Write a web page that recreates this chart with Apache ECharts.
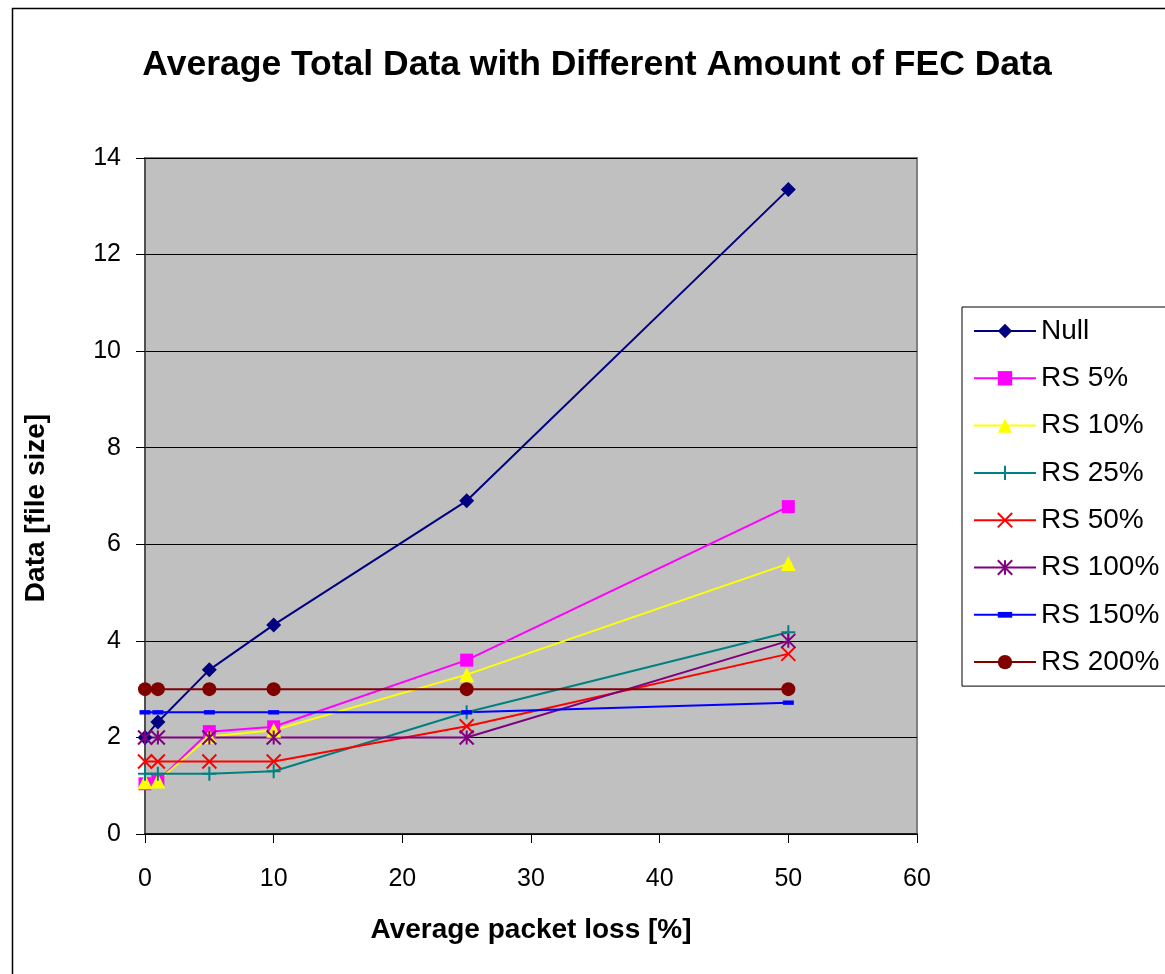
<!DOCTYPE html>
<html>
<head>
<meta charset="utf-8">
<script src="https://cdn.jsdelivr.net/npm/echarts@6/dist/echarts.min.js"></script>
<style>
html,body{margin:0;padding:0;background:#fff;}
#c{width:1165px;height:974px;}
</style>
</head>
<body>
<div id="c"></div>
<script>
const xValues = [0, 1, 5, 10, 25, 50];
const seriesNames = ['Null', 'RS 5%', 'RS 10%', 'RS 25%', 'RS 50%', 'RS 100%', 'RS 150%', 'RS 200%'];
const nullData   = [2.0, 2.32, 3.4, 4.33, 6.9, 13.35];
const rs5Data    = [1.04, 1.1, 2.12, 2.22, 3.6, 6.78];
const rs10Data   = [1.08, 1.1, 2.02, 2.15, 3.3, 5.6];
const rs25Data   = [1.25, 1.25, 1.25, 1.3, 2.52, 4.18];
const rs50Data   = [1.5, 1.5, 1.5, 1.5, 2.23, 3.73];
const rs100Data  = [2.0, 2.0, 2.0, 2.0, 2.0, 4.0];
const rs150Data  = [2.52, 2.52, 2.52, 2.52, 2.52, 2.72];
const rs200Data  = [3.0, 3.0, 3.0, 3.0, 3.0, 3.0];
const yTicks = [0, 2, 4, 6, 8, 10, 12, 14];
const xTicks = [0, 10, 20, 30, 40, 50, 60];

const allData = [nullData, rs5Data, rs10Data, rs25Data, rs50Data, rs100Data, rs150Data, rs200Data];
const colors = ['#000080', '#FF00FF', '#FFFF00', '#008080', '#FF0000', '#800080', '#0000FF', '#800000'];
const symbols = [
  'diamond', 'rect', 'triangle',
  'path://M5 0 L5 10 M0 5 L10 5',
  'path://M0 0 L10 10 M10 0 L0 10',
  'path://M5 0 L5 10 M0 0 L10 10 M10 0 L0 10',
  'path://M0 0 L0 0 M0 3 L10 3 L10 7 L0 7 Z M10 10 L10 10', 'circle'
];
const symbolSizes = [15, 13, 15, 14, 14, 14, 11, 14];
const strokeSymbols = [false, false, false, true, true, true, false, false];

const FONT = 'Arial, "Liberation Sans", sans-serif';

const series = seriesNames.map((name, i) => ({
  name: name,
  type: 'line',
  data: xValues.map((x, j) => [x, allData[i][j]]),
  symbol: symbols[i],
  symbolSize: symbolSizes[i],
  showAllSymbol: true,
  lineStyle: { color: colors[i], width: 2 },
  itemStyle: strokeSymbols[i]
    ? { color: 'rgba(0,0,0,0)', borderColor: colors[i], borderWidth: 2 }
    : { color: colors[i], borderWidth: 0 },
  emphasis: { disabled: true },
  animation: false
}));

const chart = echarts.init(document.getElementById('c'));
chart.setOption({
  animation: false,
  backgroundColor: '#fff',
  title: {
    text: 'Average Total Data with Different Amount of FEC Data',
    left: 592, textAlign: 'center', top: 42,
    textStyle: { fontFamily: FONT, fontWeight: 'bold', fontSize: 35.5, color: '#000' }
  },
  graphic: [{
    type: 'rect', left: 10, top: 6,
    shape: { width: 1300, height: 1100 },
    style: { fill: 'none', stroke: '#000', lineWidth: 1.5 },
    silent: true
  }],
  legend: {
    orient: 'vertical',
    left: 962, top: 307,
    padding: [9, 20, 9, 11],
    itemWidth: 62, itemHeight: 18,
    itemGap: 17.3,
    borderColor: '#000', borderWidth: 1,
    textStyle: { fontFamily: FONT, fontSize: 28, color: '#000', lineHeight: 30 },
    data: seriesNames
  },
  grid: {
    left: 145, top: 158, right: 248, bottom: 140,
    show: true, backgroundColor: '#C0C0C0', borderColor: '#808080', borderWidth: 2
  },
  xAxis: {
    type: 'value', min: 0, max: 60, interval: 10,
    name: 'Average packet loss [%]', nameLocation: 'middle', nameGap: 82,
    nameTextStyle: { fontFamily: FONT, fontWeight: 'bold', fontSize: 28, color: '#000' },
    axisLine: { show: true, lineStyle: { color: '#000', width: 1.5 } },
    axisTick: { show: true, inside: false, length: 9, lineStyle: { color: '#000' } },
    axisLabel: { fontFamily: FONT, fontSize: 25, color: '#000', margin: 33,
      formatter: v => xTicks.includes(v) ? String(v) : '' },
    splitLine: { show: false }
  },
  yAxis: {
    type: 'value', min: 0, max: 14, interval: 2,
    name: 'Data [file size]', nameLocation: 'middle', nameGap: 95, nameRotate: 90,
    nameTextStyle: { fontFamily: FONT, fontWeight: 'bold', fontSize: 28, color: '#000', padding: [0, 24, 0, 0] },
    axisLine: { show: true, lineStyle: { color: '#404040', width: 1.5 } },
    axisTick: { show: true, inside: false, length: 9, lineStyle: { color: '#000' } },
    axisLabel: { fontFamily: FONT, fontSize: 25, color: '#000', margin: 24,
      formatter: v => yTicks.includes(v) ? String(v) : '' },
    splitLine: { show: true, lineStyle: { color: '#000', width: 1 } }
  },
  series: series
});
</script>
</body>
</html>
